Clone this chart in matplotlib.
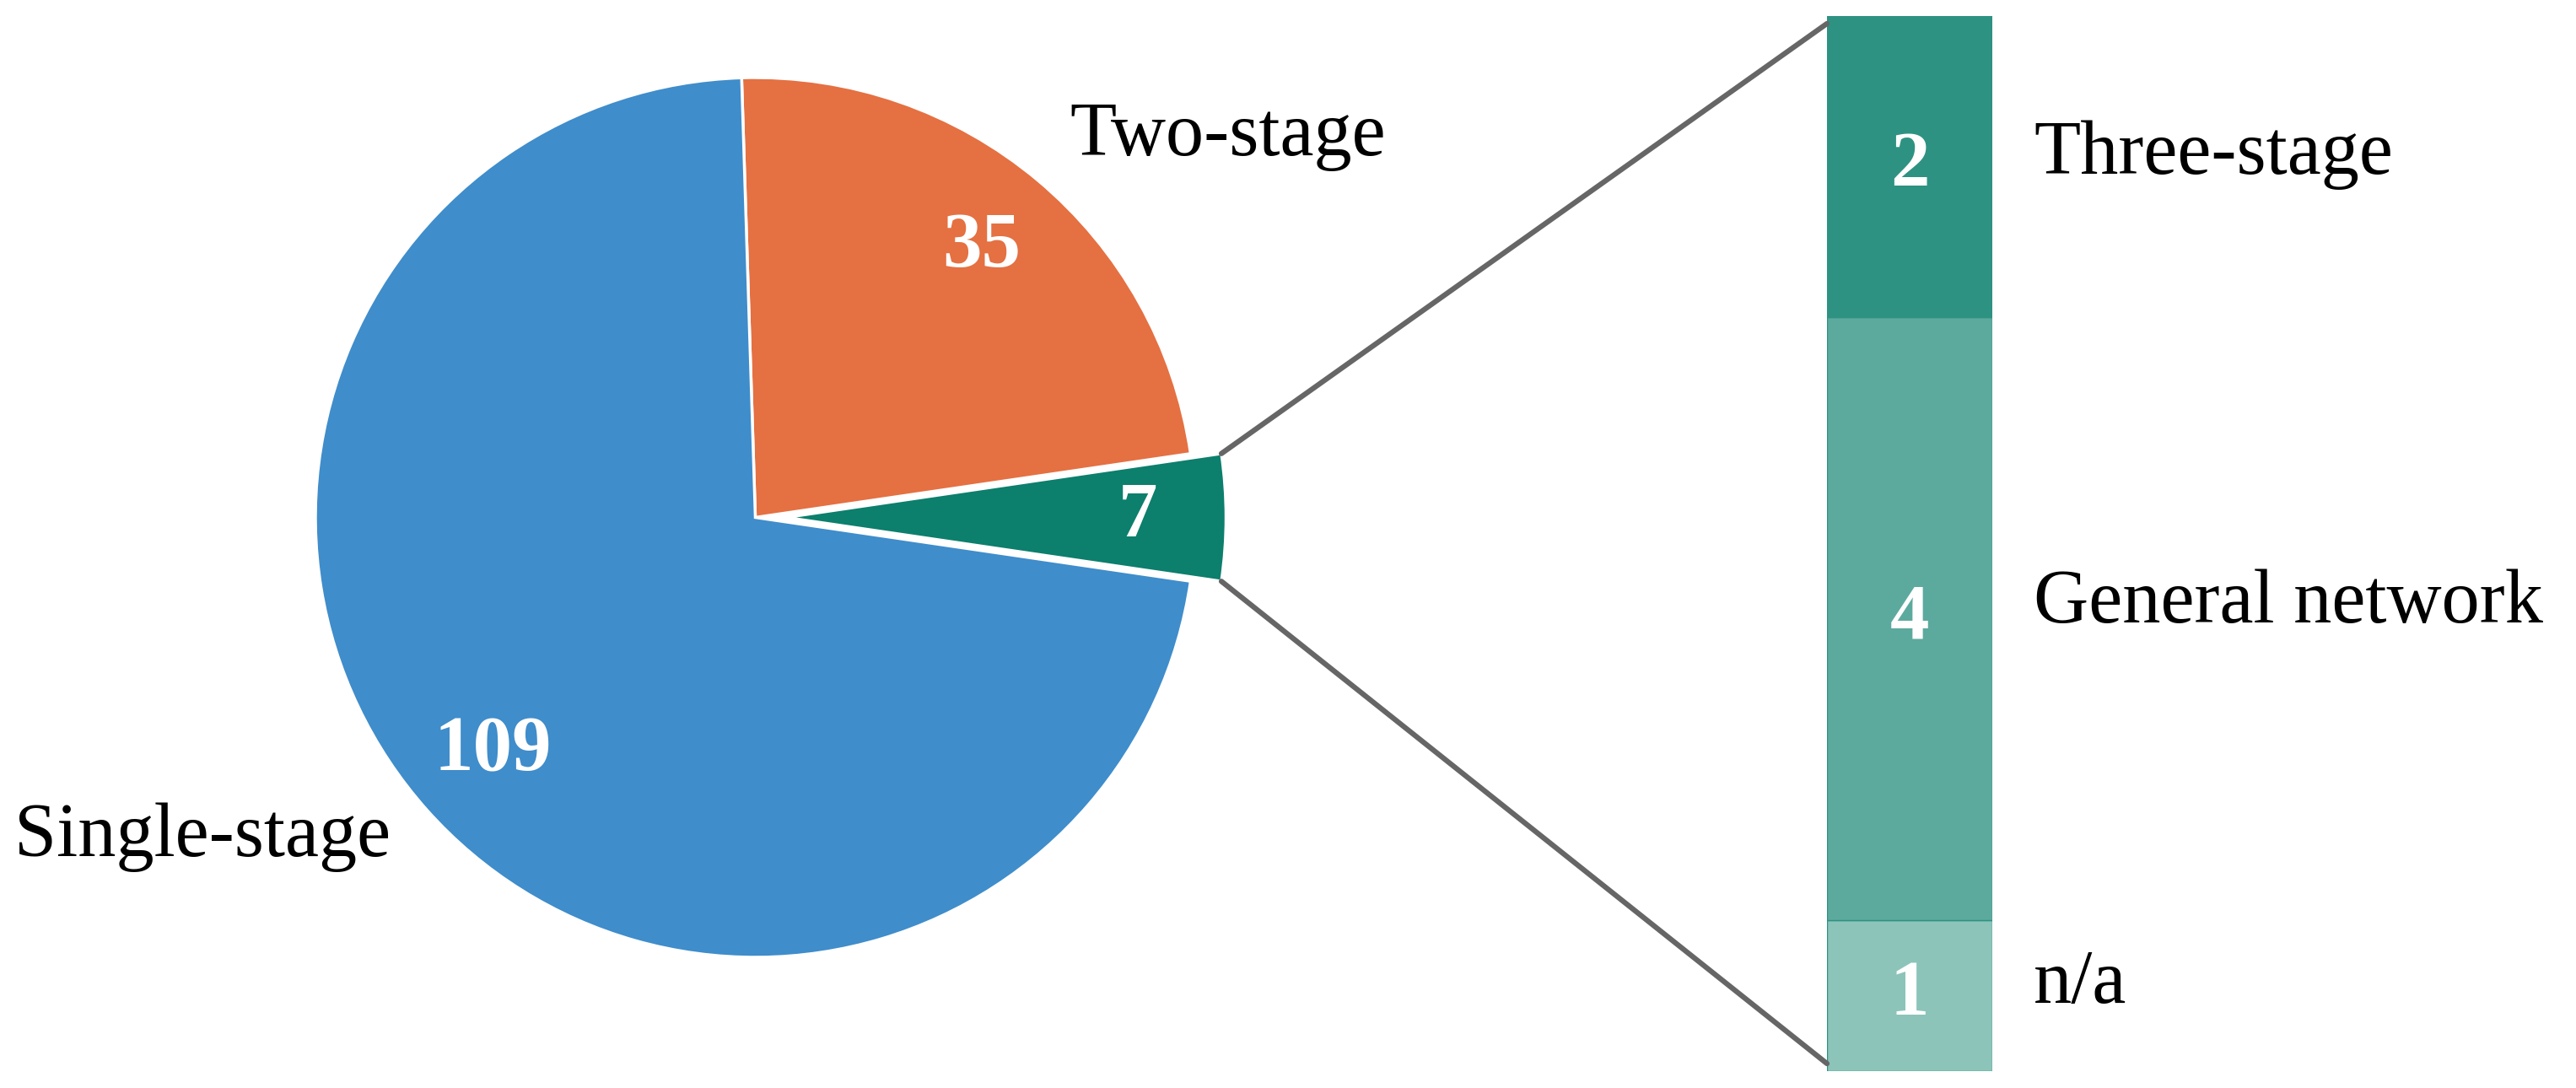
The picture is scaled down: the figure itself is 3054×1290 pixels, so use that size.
import numpy as np
import matplotlib
matplotlib.use("Agg")
import matplotlib.pyplot as plt
from matplotlib.patches import ConnectionPatch

# ---- data ----
pie_labels = ["Three+", "Two-stage", "Single-stage"]
pie_values = [7, 35, 109]
pie_colors = ["#0C7F6D", "#E57042", "#3F8DCB"]

bar_labels = ["n/a", "General network", "Three-stage"]   # bottom -> top
bar_values = [1, 4, 2]
bar_colors = ["#8CC4BA", "#5CAA9E", "#2E9282"]

plt.rcParams['font.family'] = ['Liberation Serif', 'DejaVu Serif']

W, H = 3054, 1290
fig = plt.figure(figsize=(W / 100, H / 100), dpi=100)
ax1 = fig.add_axes([0, 0, 1, 1])

cx, cy, R = 895.5, H - 613.5, 521.5
start = -pie_values[0] / sum(pie_values) * 360 / 2
wedges, _ = ax1.pie(pie_values, colors=pie_colors, startangle=start,
                    center=(cx, cy), radius=R, explode=[0.07 * R, 0, 0],
                    wedgeprops=dict(edgecolor='white', linewidth=2.5),
                    frame=True)
ax1.set_xlim(0, W)
ax1.set_ylim(0, H)
ax1.set_aspect('equal')
ax1.axis('off')

# value labels inside wedges
fs = 65
for w, v in zip(wedges, pie_values):
    ang = np.deg2rad((w.theta1 + w.theta2) / 2)
    x = w.center[0] + 0.8 * w.r * np.cos(ang)
    y = w.center[1] + 0.8 * w.r * np.sin(ang)
    ax1.text(x, y, str(v), color='white', fontsize=fs + 2, fontweight='bold',
             ha='center', va='center')

ax1.text(1456, H - 162, pie_labels[1], fontsize=fs, ha='center', va='center')
ax1.text(17, H - 993, pie_labels[2], fontsize=fs, ha='left', va='center')

# ---- bar ----
ax2 = fig.add_axes([2166 / W, 20 / H, 196 / W, 1251 / H])
bottom = 0
offsets = {"n/a": 0.08, "General network": 0.1, "Three-stage": 0.08}
for lab, v, c in zip(bar_labels, bar_values, bar_colors):
    ax2.bar(0, v, bottom=bottom, width=1, color=c, edgecolor='#2E9282', linewidth=1)
    ax2.text(0, bottom + v / 2, str(v), color='white', fontsize=fs + 2,
             fontweight='bold', ha='center', va='center')
    ax2.text(0.75, bottom + v / 2 + offsets[lab], lab,
             fontsize=fs, ha='left', va='center', clip_on=False)
    bottom += v
ax2.set_xlim(-0.5, 0.5)
ax2.set_ylim(0, sum(bar_values))
ax2.axis('off')

# connection lines
w = wedges[0]
t1, t2 = np.deg2rad(w.theta1), np.deg2rad(w.theta2)
p_top = (w.center[0] + w.r * np.cos(t2), w.center[1] + w.r * np.sin(t2))
p_bot = (w.center[0] + w.r * np.cos(t1), w.center[1] + w.r * np.sin(t1))
for p, q in [(p_top, (-0.5, sum(bar_values) - 0.05)), (p_bot, (-0.5, 0.05))]:
    con = ConnectionPatch(xyA=q, coordsA=ax2.transData, xyB=p, coordsB=ax1.transData,
                          color='#666666', linewidth=4.5)
    fig.add_artist(con)

fig.savefig("out.png", dpi=100)
